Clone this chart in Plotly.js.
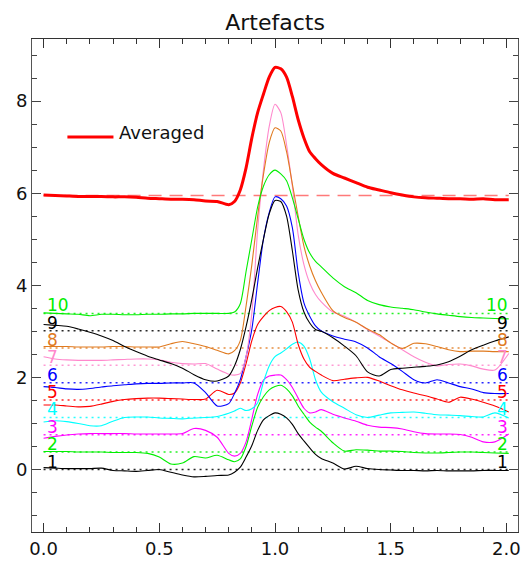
<!DOCTYPE html>
<html>
<head>
<meta charset="utf-8">
<script src="https://cdn.plot.ly/plotly-3.0.1.min.js"></script>
<style>html,body{margin:0;padding:0;background:#fff;}#chart{width:527px;height:562px;}</style>
</head>
<body>
<div id="chart"></div>
<script>
// shared x grid
const xs = [0,0.05,0.1,0.15,0.2,0.25,0.3,0.35,0.4,0.45,0.5,0.55,0.6,0.65,0.7,0.75,0.8,
  0.825,0.85,0.875,0.9,0.925,0.95,0.975,1.0,1.025,1.05,1.075,1.1,1.125,1.15,1.175,1.2,
  1.25,1.3,1.35,1.4,1.45,1.5,1.55,1.6,1.65,1.7,1.75,1.8,1.85,1.9,1.95,2.01];

const curve1 = [0.04,0.03,0.02,0.02,0.02,0.03,-0.02,-0.03,-0.04,-0.02,0.0,-0.06,-0.12,-0.16,-0.15,-0.13,-0.12,
  -0.06,0.05,0.27,0.52,0.85,1.08,1.17,1.23,1.2,1.12,0.98,0.78,0.62,0.47,0.33,0.24,
  0.14,0.01,0.07,0.02,0.0,-0.01,-0.02,-0.02,-0.03,-0.02,-0.03,-0.03,-0.03,-0.02,-0.02,-0.02];
const curve2 = [0.39,0.39,0.39,0.38,0.38,0.38,0.37,0.37,0.37,0.35,0.27,0.12,0.14,0.28,0.25,0.31,0.21,
  0.17,0.23,0.5,0.95,1.35,1.58,1.73,1.8,1.83,1.75,1.6,1.38,1.2,1.03,0.92,0.83,
  0.58,0.40,0.43,0.42,0.40,0.40,0.39,0.37,0.36,0.36,0.37,0.38,0.38,0.37,0.36,0.35];
const curve3 = [0.68,0.72,0.75,0.77,0.78,0.78,0.78,0.78,0.77,0.77,0.77,0.77,0.78,0.89,0.85,0.70,0.35,
  0.29,0.35,0.6,1.1,1.63,1.94,2.03,2.05,2.05,1.95,1.78,1.55,1.33,1.23,1.25,1.3,
  1.2,1.12,1.05,0.96,0.92,0.91,0.88,0.82,0.78,0.77,0.77,0.76,0.70,0.6,0.6,0.77];
const curve4 = [1.03,1.06,1.04,1.0,0.95,0.95,1.05,1.13,1.14,1.14,1.12,1.11,1.10,1.12,1.13,1.15,1.22,
  1.27,1.33,1.28,1.32,1.45,1.9,2.25,2.45,2.53,2.62,2.72,2.77,2.68,2.4,1.95,1.68,
  1.47,1.33,1.19,1.13,1.18,1.23,1.24,1.25,1.22,1.19,1.18,1.17,1.15,1.14,1.23,1.12];
const curve5 = [1.40,1.40,1.38,1.36,1.37,1.42,1.48,1.52,1.54,1.55,1.55,1.54,1.53,1.52,1.53,1.72,1.63,
  1.66,1.88,2.3,2.8,3.15,3.32,3.45,3.52,3.54,3.43,3.2,2.72,2.4,2.22,2.13,2.05,
  1.93,1.96,1.99,2.0,1.92,1.82,1.73,1.66,1.6,1.53,1.46,1.57,1.53,1.46,1.38,1.25];
const curve6 = [1.80,1.78,1.75,1.74,1.76,1.79,1.82,1.84,1.86,1.87,1.87,1.88,1.88,1.88,1.67,1.38,1.43,
  1.65,1.95,2.45,3.05,4.05,5.0,5.58,5.92,5.88,5.72,5.25,4.28,3.62,3.33,3.12,3.01,
  2.9,2.83,2.77,2.64,2.45,2.3,2.13,1.95,1.88,1.95,1.88,1.8,1.75,1.67,1.65,1.65];
const curve7 = [2.45,2.40,2.38,2.37,2.37,2.37,2.38,2.39,2.40,2.40,2.38,2.33,2.30,2.29,2.30,2.18,2.07,
  2.05,2.08,2.45,3.4,5.2,6.5,7.45,7.93,7.75,7.05,6.15,5.1,4.45,4.05,3.8,3.64,
  3.42,3.33,3.2,3.04,2.9,2.75,2.6,2.45,2.33,2.25,2.28,2.29,2.25,2.18,2.16,2.52];
const curve8 = [2.67,2.67,2.67,2.66,2.66,2.66,2.67,2.67,2.66,2.66,2.66,2.73,2.78,2.73,2.67,2.59,2.51,
  2.58,2.8,3.55,4.45,5.5,6.4,7.1,7.42,7.35,6.9,6.2,5.5,4.85,4.42,4.1,3.85,
  3.45,3.3,3.2,3.05,2.93,2.75,2.63,2.74,2.73,2.67,2.6,2.56,2.57,2.57,2.56,2.56];
const curve9 = [3.15,3.13,3.11,3.05,2.98,2.9,2.8,2.67,2.56,2.46,2.38,2.3,2.2,2.06,1.95,1.92,2.03,
  2.25,2.6,3.1,3.7,4.38,5.0,5.55,5.84,5.82,5.5,4.75,3.9,3.42,3.18,3.04,3.0,
  2.86,2.68,2.47,2.12,2.03,2.17,2.2,2.22,2.24,2.27,2.34,2.46,2.6,2.7,2.79,2.88];
const curve10 = [3.40,3.39,3.38,3.37,3.34,3.37,3.37,3.36,3.36,3.37,3.37,3.38,3.38,3.39,3.39,3.39,3.39,
  3.42,3.6,4.3,5.0,5.7,6.15,6.4,6.5,6.42,6.27,5.9,5.45,5.0,4.7,4.52,4.4,
  4.16,3.97,3.84,3.67,3.58,3.53,3.5,3.47,3.42,3.38,3.35,3.32,3.3,3.29,3.28,3.27];
const averaged = [5.96,5.95,5.94,5.93,5.93,5.93,5.92,5.92,5.91,5.89,5.88,5.87,5.87,5.86,5.83,5.82,5.75,
  5.82,6.07,6.55,7.2,7.75,8.15,8.52,8.73,8.7,8.52,8.1,7.6,7.2,6.9,6.75,6.62,
  6.43,6.33,6.23,6.13,6.07,6.01,5.96,5.92,5.9,5.89,5.88,5.88,5.87,5.88,5.86,5.86];

const baselines = [0, 0.38, 0.754, 1.13, 1.507, 1.885, 2.265, 2.64, 3.015, 3.39];
const avgBaseline = 5.95;
const labels = ["1","2","3","4","5","6","7","8","9","10"];
const colors = ["#000000","#00ee00","#ff00ff","#00ffff","#ff0000","#0000ff","#ff88cc","#e07a1f","#000000","#00ee00"];
const curves = [curve1,curve2,curve3,curve4,curve5,curve6,curve7,curve8,curve9,curve10];
const legendText = "Averaged";

const FONT = "DejaVu Sans, sans-serif";
const x0 = xs[0], x1 = xs[xs.length-1];
const traces = [];
baselines.forEach((b,i) => {
  traces.push({x:[x0,x1], y:[b,b], mode:'lines', hoverinfo:'skip', showlegend:false,
    line:{color:colors[i], width:1.5, dash:'2px,4px'}, opacity:0.85});
});
traces.push({x:[x0,x1], y:[avgBaseline,avgBaseline], mode:'lines', showlegend:false,
  line:{color:'#ff4040', width:1.5, dash:'13px,8px'}, opacity:0.7});
curves.forEach((c,i) => {
  traces.push({x:xs, y:c, mode:'lines', showlegend:false,
    line:{color:colors[i], width:1.1, shape:'spline', smoothing:0.7}});
});
traces.push({x:xs, y:averaged, mode:'lines', showlegend:false,
  line:{color:'#ff0000', width:3, shape:'spline', smoothing:0.7}});

const annotations = [];
baselines.forEach((b,i) => {
  annotations.push({x:x0, y:b, xref:'x', yref:'y', text:labels[i], showarrow:false,
    xanchor:'left', yanchor:'bottom', xshift:1, yshift:-4, font:{family:FONT, size:17, color:colors[i]}});
  annotations.push({x:x1, y:b, xref:'x', yref:'y', text:labels[i], showarrow:false,
    xanchor:'right', yanchor:'bottom', xshift:1, yshift:-4, font:{family:FONT, size:17, color:colors[i]}});
});
annotations.push({x:0.318, y:7.22, xref:'x', yref:'y', text:legendText, showarrow:false,
  xanchor:'left', yanchor:'middle', yshift:5, font:{family:FONT, size:18, color:'#111'}});

const layout = {
  width:527, height:562,
  margin:{l:32, r:9, t:39, b:30},
  paper_bgcolor:'#fff', plot_bgcolor:'#fff',
  showlegend:false,
  title:{text:'Artefacts', x:0.522, xanchor:'center', y:1-22/562, yanchor:'middle',
    font:{family:FONT, size:22, color:'#111'}},
  xaxis:{range:[-0.05,2.05], tick0:0, dtick:0.5, tickformat:'.1f', ticks:'inside', ticklen:9,
    tickcolor:'#333', showline:true, linecolor:'#333', linewidth:1, mirror:'allticks',
    showgrid:false, zeroline:false, tickfont:{family:FONT, size:18, color:'#111'},
    minor:{dtick:0.1, ticks:'inside', ticklen:5, tickcolor:'#333', showgrid:false}},
  yaxis:{range:[-1.357,9.348], tick0:0, dtick:2, ticks:'inside', ticklen:9,
    tickcolor:'#444', showline:true, linecolor:'#555', linewidth:1, mirror:'allticks',
    showgrid:false, zeroline:false, tickfont:{family:FONT, size:18, color:'#111'},
    minor:{dtick:0.5, ticks:'inside', ticklen:5, tickcolor:'#444', showgrid:false}},
  shapes:[{type:'line', xref:'x', yref:'y', x0:0.103, x1:0.302, y0:7.22, y1:7.22,
    line:{color:'#ff0000', width:3}}],
  annotations:annotations
};
Plotly.newPlot('chart', traces, layout, {displayModeBar:false, staticPlot:true});
</script>
</body>
</html>
